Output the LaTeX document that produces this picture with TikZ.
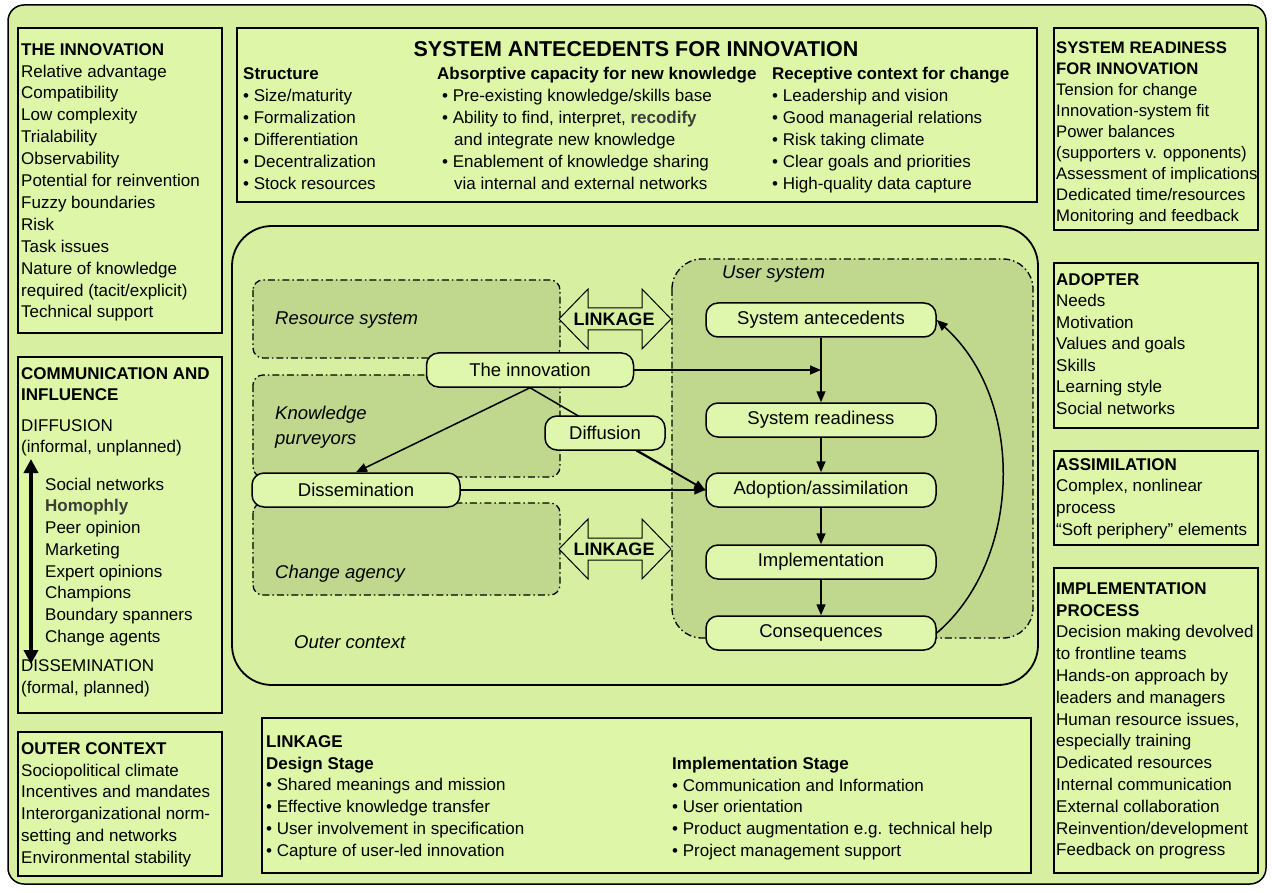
\documentclass[tikz,border=0pt]{standalone}
\usepackage{fontspec}
\setmainfont{Liberation Sans}
\usetikzlibrary{arrows.meta}
\definecolor{bgc}{RGB}{214,239,160}
\definecolor{boxc}{RGB}{221,246,168}
\definecolor{darkc}{RGB}{191,216,141}
\definecolor{nodec}{RGB}{223,247,172}
\definecolor{hl}{RGB}{60,60,60}
\newcommand\myst{\rule{0pt}{14pt}}
\begin{document}
\begin{tikzpicture}[x=1pt,y=-1pt,
  box/.style={draw, line width=1.3pt, fill=boxc},
  blk/.style={anchor=north west, align=left, inner sep=0pt, font=\fontsize{17}{21.8}\selectfont},
  region/.style={draw, fill=darkc, dash pattern=on 7pt off 3pt on 1.5pt off 3pt, line width=1.3pt},
  lab/.style={anchor=base west, inner sep=0pt, font=\fontsize{18.5}{22}\selectfont\itshape},
  flow/.style={draw, line width=1.5pt, rounded corners=12pt, fill=nodec, font=\fontsize{18.5}{22}\selectfont, minimum height=34pt, inner sep=0pt},
  arr/.style={-{Triangle[length=11pt,width=9pt]}, line width=1.5pt},
  lnk/.style={draw, line width=1pt, fill=bgc},
  lnktext/.style={font=\fontsize{18}{20}\selectfont\bfseries, inner sep=0pt}
]
\useasboundingbox (0,0) rectangle (1272,893);
% outer frame
\draw[line width=1.5pt, fill=bgc, rounded corners=16pt] (8,5) rectangle (1266,884);

% ---------- left column ----------
\draw[box] (18,28) rectangle (222,333);
\node[blk, font=\fontsize{17}{21.9}\selectfont] (tinn) at (21,41) {\myst\textbf{THE INNOVATION}\\Relative advantage\\Compatibility\\Low complexity\\Trialability\\Observability\\Potential for reinvention\\Fuzzy boundaries\\Risk\\Task issues\\Nature of knowledge\\required (tacit/explicit)\\Technical support};

\draw[box] (18,357) rectangle (222,713);
\node[blk, font=\fontsize{17}{21.3}\selectfont] (tcom) at (21,365) {\myst\textbf{COMMUNICATION AND}\\\textbf{INFLUENCE}};
\node[blk, font=\fontsize{17}{21.3}\selectfont] (tdif) at (21,417) {\myst DIFFUSION\\(informal, unplanned)};
\node[blk, font=\fontsize{17}{21.7}\selectfont] (tlist) at (45,476) {\myst Social networks\\\textcolor{hl}{\textbf{Homophly}}\\Peer opinion\\Marketing\\Expert opinions\\Champions\\Boundary spanners\\Change agents};
\node[blk, font=\fontsize{17}{22}\selectfont] (tdis) at (21,657) {\myst DISSEMINATION\\(formal, planned)};
\coordinate (ctop) at (31,459);
\coordinate (cbot) at (31,664);
\draw[{Triangle[length=14pt,width=14pt]}-{Triangle[length=14pt,width=14pt]}, line width=3.8pt] (ctop) -- (cbot);

\draw[box] (18,732) rectangle (222,876);
\node[blk] (tout) at (21,740) {\myst\textbf{OUTER CONTEXT}\\Sociopolitical climate\\Incentives and mandates\\Interorganizational norm-\\setting and networks\\Environmental stability};

% ---------- right column ----------
\draw[box] (1054,28) rectangle (1258,230);
\node[blk, font=\fontsize{16.7}{21.1}\selectfont] (tsr) at (1056,39) {\myst\textbf{SYSTEM READINESS}\\\textbf{FOR INNOVATION}\\Tension for change\\Innovation-system fit\\Power balances\\(supporters v. opponents)\\Assessment of implications\\Dedicated time/resources\\Monitoring and feedback};

\draw[box] (1054,263) rectangle (1258,428);
\node[blk, font=\fontsize{17}{21.5}\selectfont] (tado) at (1056,271) {\myst\textbf{ADOPTER}\\Needs\\Motivation\\Values and goals\\Skills\\Learning style\\Social networks};

\draw[box] (1054,451) rectangle (1258,545);
\node[blk, font=\fontsize{17}{21.7}\selectfont] (tass) at (1056,456) {\myst\textbf{ASSIMILATION}\\Complex, nonlinear\\process\\“Soft periphery” elements};

\draw[box] (1054,568) rectangle (1258,873);
\node[blk] (timp) at (1056,580) {\myst\textbf{IMPLEMENTATION}\\\textbf{PROCESS}\\Decision making devolved\\to frontline teams\\Hands-on approach by\\leaders and managers\\Human resource issues,\\especially training\\Dedicated resources\\Internal communication\\External collaboration\\Reinvention/development\\Feedback on progress};

% ---------- top box ----------
\draw[box] (237,28) rectangle (1037,202);
\node[font=\fontsize{21.5}{24}\selectfont\bfseries, inner sep=0pt, anchor=base] (sat) at (636,57) {SYSTEM ANTECEDENTS FOR INNOVATION};
\node[blk] (c1) at (243,65) {\myst\textbf{Structure}\\[1pt]• Size/maturity\\• Formalization\\• Differentiation\\• Decentralization\\• Stock resources};
\node[blk] (c2) at (437,65) {\myst\textbf{Absorptive capacity for new knowledge}\\[1pt]\hspace*{5pt}• Pre-existing knowledge/skills base\\\hspace*{5pt}• Ability to find, interpret, \textcolor{hl}{\textbf{recodify}}\\\hspace*{17pt}and integrate new knowledge\\\hspace*{5pt}• Enablement of knowledge sharing\\\hspace*{17pt}via internal and external networks};
\node[blk] (c3) at (772,65) {\myst\textbf{Receptive context for change}\\[1pt]• Leadership and vision\\• Good managerial relations\\• Risk taking climate\\• Clear goals and priorities\\• High-quality data capture};

% ---------- bottom box ----------
\draw[box] (262,718) rectangle (1031,873);
\node[blk] (b1) at (266,733) {\myst\textbf{LINKAGE}\\\textbf{Design Stage}\\• Shared meanings and mission\\• Effective knowledge transfer\\• User involvement in specification\\• Capture of user-led innovation};
\node[blk] (b2) at (672,755) {\myst\textbf{Implementation Stage}\\• Communication and Information\\• User orientation\\• Product augmentation e.g. technical help\\• Project management support};

% ---------- central diagram ----------
\draw[line width=1.8pt, rounded corners=40pt] (232,226) rectangle (1038,685);
\node[lab] (louter) at (294,648) {Outer context};

\draw[region, rounded corners=10pt] (253,280) rectangle (560,358);
\draw[region, rounded corners=10pt] (253,375) rectangle (560,477);
\draw[region, rounded corners=10pt] (253,503) rectangle (560,595);
\draw[region, rounded corners=30pt] (672,259) rectangle (1033,638);

\node[lab] (lres) at (275,325) {Resource system};
\node[lab, anchor=north west, align=left, font=\fontsize{18.5}{25}\selectfont\itshape] (lkp) at (275,404) {\rule{0pt}{15pt}Knowledge\\purveyors};
\node[lab] (lca) at (275,578) {Change agency};
\node[lab] (lus) at (722,279) {User system};

% linkage arrows
\draw[lnk] (559,319) -- (588,289) -- (588,308) -- (642,308) -- (642,289) -- (671,319) -- (642,349) -- (642,330) -- (588,330) -- (588,349) -- cycle;
\node[lnktext] (lk1) at (614,319) {LINKAGE};
\draw[lnk] (559,549) -- (588,519) -- (588,538) -- (642,538) -- (642,519) -- (671,549) -- (642,579) -- (642,560) -- (588,560) -- (588,579) -- cycle;
\node[lnktext] (lk2) at (614,549) {LINKAGE};

% flow nodes
\node[flow, minimum width=230pt] (ante) at (821,320) {System antecedents};
\node[flow, minimum width=230pt] (ready) at (821,420) {System readiness};
\node[flow, minimum width=230pt] (adopt) at (821,490) {Adoption/assimilation};
\node[flow, minimum width=230pt] (impl) at (821,562) {Implementation};
\node[flow, minimum width=230pt] (cons) at (821,633) {Consequences};
\node[flow, minimum width=207pt] (innov) at (530,370) {The innovation};
\node[flow, minimum width=208pt] (dissem) at (356,490) {Dissemination};

% connectors
\coordinate (jn) at (ante.south |- innov.east);
\draw[arr] (ante) -- (ready);
\draw[arr] (ready) -- (adopt);
\draw[arr] (adopt) -- (impl);
\draw[arr] (impl) -- (cons);
\draw[arr] (innov.east) -- (jn);
\draw[arr] (innov.south) -- (dissem.north);
\draw[arr] (dissem.east) -- (adopt.west);
\draw[arr] (cons.east) .. controls (1022,560) and (1026,400) .. (ante.east);
\draw[line width=1.5pt] (innov.south) -- (adopt.west);
\node[flow, minimum width=120pt] (diff) at (605,433) {Diffusion};
\draw[arr] (diff) -- (adopt.west);
\end{tikzpicture}
\end{document}
